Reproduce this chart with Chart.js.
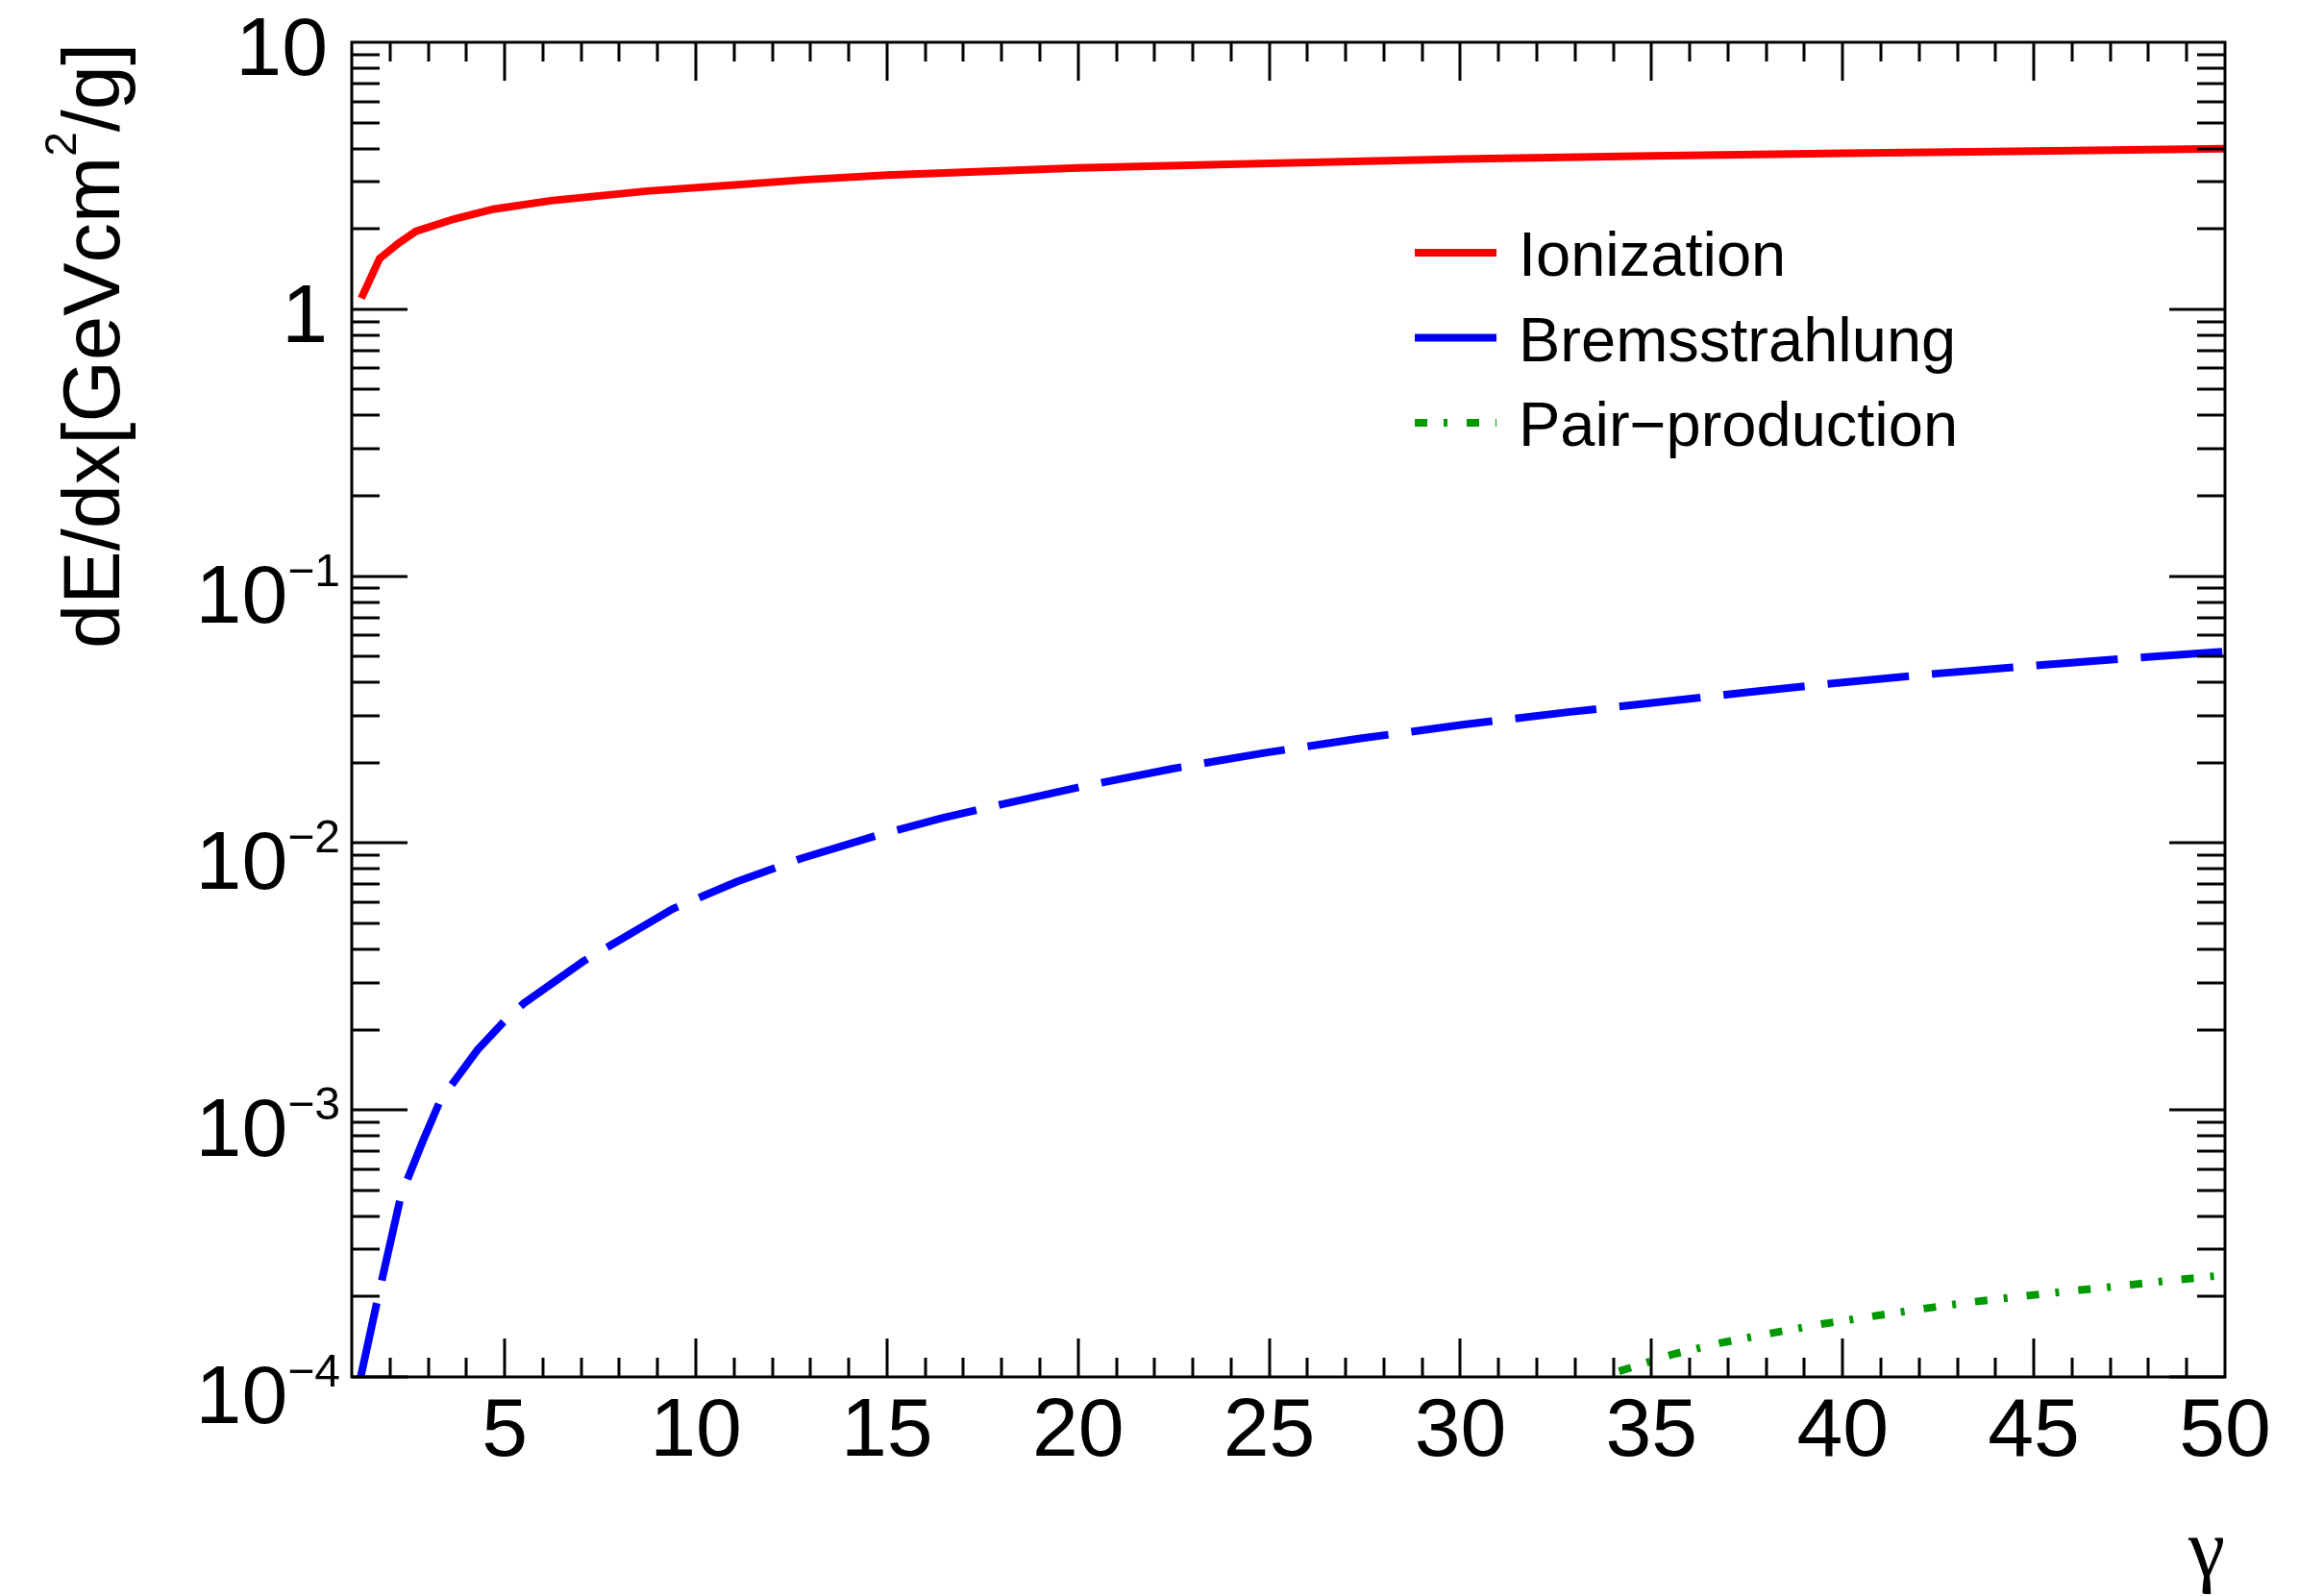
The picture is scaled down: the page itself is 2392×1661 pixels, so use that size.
<!DOCTYPE html>
<html><head><meta charset="utf-8">
<script src="https://cdn.jsdelivr.net/npm/chart.js@4.4.1/dist/chart.umd.min.js"></script>
<style>html,body{margin:0;padding:0;background:#fff;}canvas{display:block;}</style>
</head><body>
<canvas id="c" width="2392" height="1661"></canvas>
<script>
// ---- data ----
const ionGamma  = [1.25, 1.73, 2.23, 2.68, 3.69, 4.70, 6.20, 8.72, 10.83, 12.92, 15, 20, 25, 30, 35, 40, 45, 50];
const ionValues = [1.10, 1.55, 1.77, 1.96, 2.18, 2.37, 2.55, 2.77, 2.91, 3.06, 3.18, 3.38, 3.52, 3.65, 3.75, 3.84, 3.91, 3.99];

const bremGamma  = [1.2, 1.69, 2.29, 2.86, 3.32, 3.70, 4.29, 5.04, 5.50, 7.05, 9.40, 11.08, 12.75, 14.76, 16.44, 18.03, 20.13, 22.47, 24.9, 27.42, 30.10, 32.87, 35.59, 37.56, 40, 42.5, 45, 47.5, 50];
const bremValues = [0.95e-4, 2.0e-4, 4.8e-4, 7.65e-4, 1.09e-3, 1.29e-3, 1.68e-3, 2.19e-3, 2.51e-3, 3.60e-3, 5.67e-3, 7.17e-3, 8.75e-3, 0.0107, 0.0124, 0.0140, 0.0163, 0.0190, 0.0218, 0.0247, 0.0278, 0.0310, 0.0342, 0.0368, 0.0400, 0.0432, 0.0462, 0.0492, 0.0522];

const pairGamma  = [34.15, 35.6, 36.8, 38.15, 39.48, 40.75, 42.08, 43.4, 44.75, 46.0, 47.35, 48.6, 49.9];
const pairValues = [1.05e-4, 1.22e-4, 1.34e-4, 1.46e-4, 1.58e-4, 1.685e-4, 1.80e-4, 1.91e-4, 2.01e-4, 2.10e-4, 2.20e-4, 2.30e-4, 2.40e-4];

const seriesNames = ['Ionization', 'Bremsstrahlung', 'Pair\u2212production'];

const xTickValues = [5, 10, 15, 20, 25, 30, 35, 40, 45, 50];
const xTickLabels = ['5', '10', '15', '20', '25', '30', '35', '40', '45', '50'];
const yTickValues = [1e-4, 1e-3, 1e-2, 1e-1, 1, 10];
const yTickBase   = ['10', '10', '10', '10', '1', '10'];
const yTickExp    = ['\u22124', '\u22123', '\u22122', '\u22121', '', ''];
const xTitle = '\u03b3';
const yTitleParts = ['dE/dx[GeVcm', '2', '/g]'];

// ---- styles ----
const colors = ['#ff0000', '#0000ff', '#009900'];
const dashes = [[], [85, 24], [13, 17, 4, 20]];
const LW = 8;
const FONT = '"Liberation Sans", Arial, sans-serif';

function pts(xs, ys) { return xs.map((v, i) => ({x: v, y: ys[i]})); }

const rootFrame = {
  id: 'rootFrame',
  afterDatasetsDraw(chart) {
    const {ctx, chartArea: a, scales: {x, y}} = chart;
    ctx.save();
    ctx.strokeStyle = '#000';
    ctx.fillStyle = '#000';
    ctx.setLineDash([]);
    // ticks
    ctx.lineWidth = 3;
    ctx.beginPath();
    for (let v = 2; v < 50; v++) {
      const px = Math.round(x.getPixelForValue(v));
      const len = (v % 5 === 0) ? 40 : 20;
      ctx.moveTo(px, a.bottom); ctx.lineTo(px, a.bottom - len);
      ctx.moveTo(px, a.top); ctx.lineTo(px, a.top + len);
    }
    for (let e = -4; e <= 0; e++) {
      for (let m = 1; m <= 9; m++) {
        const v = m * Math.pow(10, e);
        const py = Math.round(y.getPixelForValue(v));
        const len = (m === 1) ? 58 : 29;
        ctx.moveTo(a.left, py); ctx.lineTo(a.left + len, py);
        ctx.moveTo(a.right, py); ctx.lineTo(a.right - len, py);
      }
    }
    ctx.stroke();
    // frame
    ctx.lineWidth = 3;
    ctx.strokeRect(a.left, a.top, a.right - a.left, a.bottom - a.top);

    // x labels
    ctx.font = '86px ' + FONT;
    ctx.textAlign = 'center';
    ctx.textBaseline = 'alphabetic';
    xTickValues.forEach((v, i) => {
      ctx.fillText(xTickLabels[i], x.getPixelForValue(v), a.bottom + 82);
    });
    // y labels
    yTickValues.forEach((v, i) => {
      const py = y.getPixelForValue(v);
      if (yTickExp[i] === '') {
        ctx.font = '86px ' + FONT;
        ctx.textAlign = 'right';
        ctx.fillText(yTickBase[i], a.left - 25, py + 34);
      } else {
        ctx.font = '48px ' + FONT;
        ctx.textAlign = 'right';
        const ew = ctx.measureText(yTickExp[i]).width;
        const rx = a.left - 12;
        ctx.fillText(yTickExp[i], rx, py + 10);
        ctx.font = '86px ' + FONT;
        ctx.fillText(yTickBase[i], rx - ew, py + 48);
      }
    });
    // x title
    ctx.font = '86px "Liberation Serif", "DejaVu Serif", serif';
    ctx.textAlign = 'right';
    ctx.fillText(xTitle, a.right, 1640);
    // y title (rotated, aligned to the top end of the axis)
    ctx.save();
    ctx.translate(124, a.top + 1);
    ctx.rotate(-Math.PI / 2);
    ctx.textAlign = 'left';
    ctx.font = '83px ' + FONT;
    const w1 = ctx.measureText(yTitleParts[0]).width;
    const w3 = ctx.measureText(yTitleParts[2]).width;
    ctx.font = '46px ' + FONT;
    const w2 = ctx.measureText(yTitleParts[1]).width;
    let cx = -(w1 + w2 + w3);
    ctx.font = '83px ' + FONT;
    ctx.fillText(yTitleParts[0], cx, 0); cx += w1;
    ctx.font = '46px ' + FONT;
    ctx.fillText(yTitleParts[1], cx, -45); cx += w2;
    ctx.font = '83px ' + FONT;
    ctx.fillText(yTitleParts[2], cx, 0);
    ctx.restore();

    // legend
    const rows = [263, 351.5, 440];
    seriesNames.forEach((name, i) => {
      ctx.save();
      ctx.strokeStyle = colors[i];
      ctx.lineWidth = LW;
      ctx.lineCap = 'butt';
      ctx.setLineDash(i === 2 ? dashes[2] : []);
      ctx.beginPath();
      ctx.moveTo(1472, rows[i]); ctx.lineTo(1557, rows[i]);
      ctx.stroke();
      ctx.restore();
      ctx.font = '65px ' + FONT;
      ctx.textAlign = 'left';
      ctx.fillStyle = '#000';
      ctx.fillText(name, 1580, rows[i] + 24);
    });
    ctx.restore();
  }
};

new Chart(document.getElementById('c'), {
  type: 'scatter',
  data: {
    datasets: [
      {label: seriesNames[0], data: pts(ionGamma, ionValues)},
      {label: seriesNames[1], data: pts(bremGamma, bremValues)},
      {label: seriesNames[2], data: pts(pairGamma, pairValues)}
    ].map((d, i) => Object.assign(d, {
      showLine: true, pointRadius: 0, pointHoverRadius: 0,
      borderColor: colors[i], backgroundColor: colors[i],
      borderWidth: LW, borderDash: dashes[i], tension: 0, fill: false
    }))
  },
  options: {
    responsive: false,
    devicePixelRatio: 1,
    animation: false,
    events: [],
    layout: {padding: {left: 366, right: 77, top: 44, bottom: 228}},
    plugins: {legend: {display: false}, tooltip: {enabled: false}, title: {display: false}},
    scales: {
      x: {type: 'linear', min: 1, max: 50, display: false},
      y: {type: 'logarithmic', min: 1e-4, max: 10, display: false}
    }
  },
  plugins: [rootFrame]
});
</script>
</body></html>
